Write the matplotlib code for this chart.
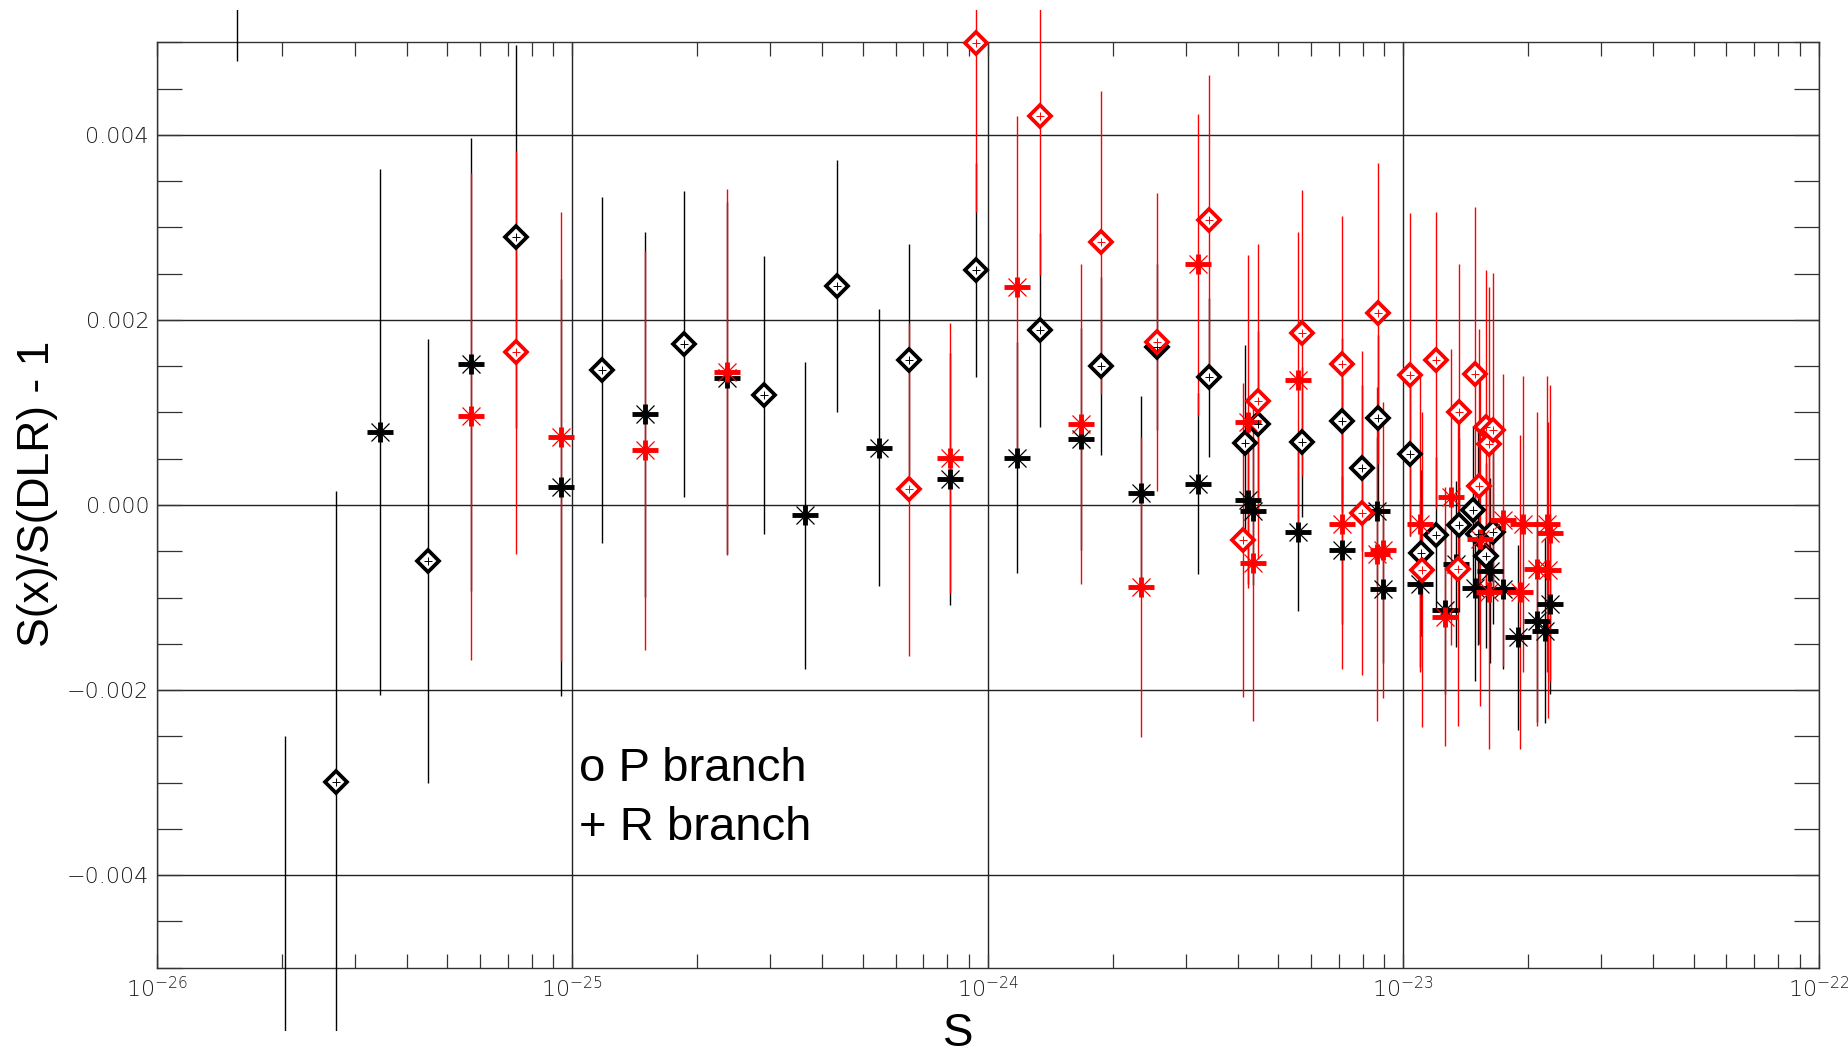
"""Line-intensity ratio S(x)/S(DLR) - 1 against line intensity S, P and R branch,
two data sets (black / red) with 1-sigma error bars."""

import matplotlib
matplotlib.use("Agg")
import matplotlib.pyplot as plt
from matplotlib.path import Path
from matplotlib.ticker import (FuncFormatter, LogFormatterMathtext, LogLocator,
                               MultipleLocator, NullFormatter)
from matplotlib.transforms import Bbox, TransformedBbox, blended_transform_factory

# --- data -------------------------------------------------------------------
# P branch, set 1 (black diamonds)
p1_s = [2.04e-26, 2.70e-26, 4.49e-26, 7.33e-26, 1.18e-25, 1.854e-25, 2.89e-25, 4.34e-25,
        6.46e-25, 9.38e-25, 1.334e-24, 1.871e-24, 2.55e-24, 3.41e-24, 4.16e-24, 4.48e-24,
        5.70e-24, 7.14e-24, 7.94e-24, 8.71e-24, 1.038e-23, 1.107e-23, 1.202e-23, 1.361e-23,
        1.474e-23, 1.515e-23, 1.587e-23, 1.647e-23]
p1_dev = [-0.0062, -0.00299, -0.00061, 0.0029, 0.00146, 0.00174, 0.00119, 0.00237,
          0.00157, 0.00254, 0.00189, 0.0015, 0.00171, 0.00138, 0.00067, 0.00088,
          0.00068, 0.00091, 0.0004, 0.00094, 0.00055, -0.00052, -0.00032, -0.00022,
          -0.00005, -0.00031, -0.00055, -0.00029]
p1_err = [0.0037, 0.00314, 0.0024, 0.00207, 0.00187, 0.00165, 0.0015, 0.00136,
          0.00125, 0.00116, 0.00105, 0.00096, 0.0009, 0.00086, 0.00106, 0.001,
          0.00081, 0.0009, 0.0009, 0.0009, 0.00088, 0.0009, 0.00084, 0.00094,
          0.0009, 0.0012, 0.001, 0.001]

# R branch, set 1 (black asterisks)
r1_s = [1.56e-26, 3.44e-26, 5.72e-26, 9.40e-26, 1.494e-25, 2.36e-25, 3.63e-25, 5.48e-25,
        8.11e-25, 1.178e-24, 1.675e-24, 2.34e-24, 3.21e-24, 4.24e-24, 4.36e-24, 5.59e-24,
        7.14e-24, 8.63e-24, 8.95e-24, 1.096e-23, 1.26e-23, 1.344e-23, 1.488e-23, 1.617e-23,
        1.741e-23, 1.891e-23, 2.095e-23, 2.193e-23, 2.254e-23]
r1_dev = [0.0083, 0.00079, 0.00152, 0.00019, 0.00098, 0.00137, -0.00011, 0.00062,
          0.00028, 0.00051, 0.00071, 0.00013, 0.00023, 0.00005, -0.00006, -0.00029,
          -0.00049, -0.00006, -0.00091, -0.00085, -0.00114, -0.00064, -0.0009, -0.00071,
          -0.00091, -0.00143, -0.00125, -0.00136, -0.00107]
r1_err = [0.0035, 0.00284, 0.00245, 0.00225, 0.00197, 0.0019, 0.00166, 0.0015,
          0.00136, 0.00125, 0.0012, 0.00105, 0.00098, 0.0009, 0.0008, 0.00086,
          0.0008, 0.0008, 0.0008, 0.0009, 0.0009, 0.0009, 0.001, 0.001,
          0.00086, 0.001, 0.0011, 0.001, 0.00097]

# P branch, set 2 (red diamonds)
p2_s = [7.33e-26, 6.46e-25, 9.38e-25, 1.334e-24, 1.871e-24, 2.55e-24, 3.41e-24, 4.12e-24,
        4.48e-24, 5.70e-24, 7.14e-24, 7.94e-24, 8.71e-24, 1.038e-23, 1.111e-23, 1.202e-23,
        1.356e-23, 1.361e-23, 1.488e-23, 1.521e-23, 1.587e-23, 1.61e-23, 1.647e-23]
p2_dev = [0.00165, 0.00017, 0.00499, 0.0042, 0.00284, 0.00176, 0.00308, -0.00038,
          0.00112, 0.00186, 0.00152, -0.00009, 0.00207, 0.00141, -0.0007, 0.00157,
          -0.00069, 0.00101, 0.00142, 0.0002, 0.00084, 0.00066, 0.00081]
p2_err = [0.00218, 0.0018, 0.00182, 0.00171, 0.00164, 0.00161, 0.00157, 0.0017,
          0.0017, 0.00155, 0.0016, 0.00175, 0.00163, 0.00175, 0.0017, 0.0016,
          0.0017, 0.0016, 0.0018, 0.0017, 0.0017, 0.0017, 0.0017]

# R branch, set 2 (red asterisks)
r2_s = [5.72e-26, 9.40e-26, 1.494e-25, 2.36e-25, 8.11e-25, 1.178e-24, 1.675e-24, 2.34e-24,
        3.21e-24, 4.24e-24, 4.36e-24, 5.59e-24, 7.14e-24, 8.63e-24, 8.95e-24, 1.096e-23,
        1.26e-23, 1.307e-23, 1.529e-23, 1.607e-23, 1.741e-23, 1.909e-23, 1.944e-23,
        2.095e-23, 2.214e-23, 2.234e-23, 2.254e-23]
r2_dev = [0.00096, 0.00074, 0.00059, 0.00144, 0.00051, 0.00236, 0.00088, -0.00089,
          0.0026, 0.0009, -0.00063, 0.00135, -0.0002, -0.00053, -0.00049, -0.00021,
          -0.00121, 0.00009, -0.00037, -0.00094, -0.00016, -0.00094, -0.00021,
          -0.00069, -0.00021, -0.0007, -0.0003]
r2_err = [0.00263, 0.00243, 0.00216, 0.00198, 0.00146, 0.00184, 0.00173, 0.00162,
          0.00163, 0.0018, 0.0017, 0.0016, 0.00157, 0.0018, 0.0016, 0.0016,
          0.0014, 0.0016, 0.0018, 0.0017, 0.00158, 0.0017, 0.0016,
          0.0017, 0.0016, 0.0016, 0.0016]

XLIM = (1e-26, 1e-22)
YLIM = (-0.005, 0.005)

# asterisk: bold cross with thin diagonals on top
CROSS = Path([(-1, 0), (1, 0), (0, -0.75), (0, 0.75)],
             [Path.MOVETO, Path.LINETO, Path.MOVETO, Path.LINETO])

LABEL_FONT = ["Liberation Sans", "DejaVu Sans"]
TICK_FONT = "DejaVu Sans"


def clip_wide(ax, artist):
    """Let bars run a little past the frame, like the old plotting package did."""
    tr = blended_transform_factory(ax.transAxes, ax.transData)
    artist.set_clip_path(None)
    artist.set_clip_box(TransformedBbox(Bbox([[-0.05, -0.00569], [1.05, 0.00535]]), tr))


def draw_set(ax, s, dev, err, color, kind):
    lo = [d - e for d, e in zip(dev, err)]
    hi = [d + e for d, e in zip(dev, err)]
    bars = ax.vlines(s, lo, hi, colors=color, lw=1.0, zorder=3)
    clip_wide(ax, bars)
    if kind == "P":
        marks = ax.plot(s, dev, ls="none", marker="D", ms=11, mew=2.7,
                        mfc="white", mec=color, zorder=4)
        marks += ax.plot(s, dev, ls="none", marker="+", ms=6, mew=0.7,
                         color=color, zorder=5)
    else:
        marks = ax.plot(s, dev, ls="none", marker=CROSS, ms=19, mew=3.5,
                        mfc="none", mec=color, zorder=4)
        marks += ax.plot(s, dev, ls="none", marker="x", ms=13, mew=0.9,
                         color=color, zorder=4)
    for m in marks:
        clip_wide(ax, m)


def y_fmt(v, _pos):
    if abs(v) < 1e-12:
        v = 0.0
    return f"{v:.3f}".replace("-", "\u2212")


def main():
    plt.rcParams["mathtext.default"] = "regular"
    fig = plt.figure(figsize=(18.48, 10.52), dpi=100)
    ax = fig.add_axes([0.08485, 0.08023, 0.89924, 0.87947])

    ax.set_xscale("log")
    ax.set_xlim(*XLIM)
    ax.set_ylim(*YLIM)

    draw_set(ax, p1_s, p1_dev, p1_err, "black", "P")
    draw_set(ax, r1_s, r1_dev, r1_err, "black", "R")
    draw_set(ax, p2_s, p2_dev, p2_err, "#ff0000", "P")
    draw_set(ax, r2_s, r2_dev, r2_err, "#ff0000", "R")

    # ticks: decades / 0.002 as full grid lines, minor ticks pointing inwards
    ax.xaxis.set_major_locator(LogLocator(base=10, numticks=10))
    ax.xaxis.set_minor_locator(LogLocator(base=10, subs=range(2, 10), numticks=10))
    ax.xaxis.set_major_formatter(LogFormatterMathtext())
    ax.xaxis.set_minor_formatter(NullFormatter())
    ax.yaxis.set_major_locator(MultipleLocator(0.002))
    ax.yaxis.set_minor_locator(MultipleLocator(0.0005))
    ax.yaxis.set_major_formatter(FuncFormatter(y_fmt))

    ax.grid(True, which="major", color="#222222", lw=1.0, zorder=1)
    for sp in ax.spines.values():
        sp.set_color("#333333")
        sp.set_linewidth(1.0)

    ax.tick_params(which="both", direction="in", top=True, right=True,
                   color="#333333", width=0.9, labelcolor="#1a1a1a")
    ax.tick_params(axis="x", which="both", length=10, pad=6, labelsize=16)
    ax.tick_params(axis="y", which="both", length=18, pad=5.5, labelsize=16)
    for lab in ax.get_xticklabels() + ax.get_yticklabels():
        lab.set_fontfamily(TICK_FONT)
        lab.set_fontweight("light")

    ax.set_xlabel("S", fontsize=33, family=LABEL_FONT, va="baseline")
    ax.xaxis.set_label_coords(0.482, -0.0845)
    ax.set_ylabel("S(x)/S(DLR) - 1", fontsize=32, family=LABEL_FONT, va="center")
    ax.yaxis.set_label_coords(-0.0718, 0.512)

    ax.text(0.2539, 0.2015, "o P branch", transform=ax.transAxes, fontsize=34,
            family=LABEL_FONT, va="baseline", ha="left")
    ax.text(0.2539, 0.1383, "+ R branch", transform=ax.transAxes, fontsize=34,
            family=LABEL_FONT, va="baseline", ha="left")

    fig.savefig("out.png", dpi=100, facecolor="white")
    plt.close(fig)


if __name__ == "__main__":
    main()
